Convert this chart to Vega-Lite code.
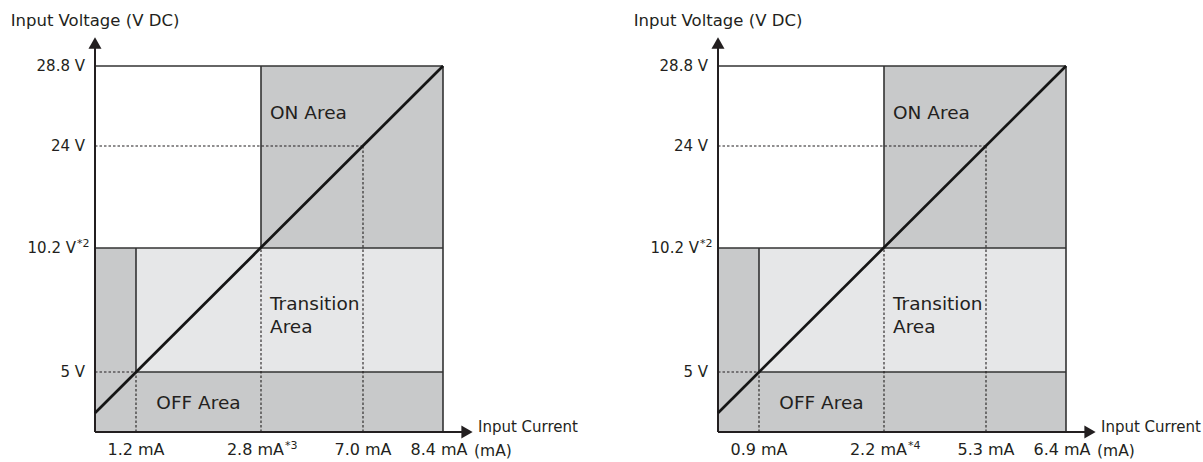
{
  "$schema": "https://vega.github.io/schema/vega-lite/v6.json",
  "padding": 0,
  "background": "white",
  "spacing": 0,
  "config": {
    "view": {"stroke": null},
    "text": {"font": "DejaVu Sans", "fontSize": 16, "color": "#231f20", "baseline": "middle"}
  },
  "hconcat": [
    {
      "width": 623,
      "height": 462,
      "encoding": {
        "x": {"field": "x", "type": "quantitative", "axis": null,
              "scale": {"domain": [0, 1.2, 2.8, 7.0, 8.4, 9.4], "range": [95, 136, 261, 363, 443, 467], "nice": false, "zero": false}},
        "y": {"field": "y", "type": "quantitative", "axis": null,
              "scale": {"domain": [0, 5, 10.2, 24, 28.8, 30.2], "range": [432, 372, 248, 146, 66, 43], "nice": false, "zero": false}}
      },
      "layer": [
        {
          "data": {"values": [
            {"x": 0, "x2": 8.4, "y": 0, "y2": 5, "zone": "OFF"},
            {"x": 0, "x2": 1.2, "y": 5, "y2": 10.2, "zone": "OFF"},
            {"x": 1.2, "x2": 8.4, "y": 5, "y2": 10.2, "zone": "Transition"},
            {"x": 2.8, "x2": 8.4, "y": 10.2, "y2": 28.8, "zone": "ON"}
          ]},
          "mark": {"type": "rect", "opacity": 1},
          "encoding": {
            "x2": {"field": "x2"}, "y2": {"field": "y2"},
            "color": {"field": "zone", "type": "nominal", "legend": null,
                      "scale": {"domain": ["ON", "Transition", "OFF"], "range": ["#c8c9ca", "#e6e7e8", "#c8c9ca"]}}
          }
        },
        {
          "data": {"values": [
            {"x": 0, "x2": 8.4, "y": 28.8, "y2": 28.8},
            {"x": 8.4, "x2": 8.4, "y": 0, "y2": 28.8},
            {"x": 2.8, "x2": 2.8, "y": 10.2, "y2": 28.8},
            {"x": 0, "x2": 8.4, "y": 10.2, "y2": 10.2},
            {"x": 1.2, "x2": 8.4, "y": 5, "y2": 5},
            {"x": 1.2, "x2": 1.2, "y": 5, "y2": 10.2}
          ]},
          "mark": {"type": "rule", "color": "#333333", "strokeWidth": 1.6},
          "encoding": {"x2": {"field": "x2"}, "y2": {"field": "y2"}}
        },
        {
          "data": {"values": [
            {"x": 0, "x2": 1.2, "y": 5, "y2": 5},
            {"x": 1.2, "x2": 1.2, "y": 0, "y2": 5},
            {"x": 2.8, "x2": 2.8, "y": 0, "y2": 10.2},
            {"x": 0, "x2": 7.0, "y": 24, "y2": 24},
            {"x": 7.0, "x2": 7.0, "y": 0, "y2": 24}
          ]},
          "mark": {"type": "rule", "color": "#231f20", "strokeWidth": 1.1, "strokeDash": [2.5, 2]},
          "encoding": {"x2": {"field": "x2"}, "y2": {"field": "y2"}}
        },
        {
          "data": {"values": [
            {"x": 0, "x2": 0, "y": 0, "y2": 30.2},
            {"x": 0, "x2": 9.4, "y": 0, "y2": 0}
          ]},
          "mark": {"type": "rule", "color": "#231f20", "strokeWidth": 2},
          "encoding": {"x2": {"field": "x2"}, "y2": {"field": "y2"}}
        },
        {
          "data": {"values": [{"x": 0, "y": 1.58}, {"x": 8.4, "y": 28.8}]},
          "mark": {"type": "line", "color": "#151515", "strokeWidth": 2.7}
        },
        {
          "data": {"values": [{"x": 0, "y": 30.2}]},
          "mark": {"type": "point", "shape": "triangle-up", "filled": true, "size": 170, "color": "#231f20", "opacity": 1}
        },
        {
          "data": {"values": [{"x": 9.4, "y": 0}]},
          "mark": {"type": "point", "shape": "triangle-right", "filled": true, "size": 170, "color": "#231f20", "opacity": 1}
        },
        {
          "data": {"values": [
            {"x": 0, "y": 28.8, "label": "28.8 V"},
            {"x": 0, "y": 24, "label": "24 V"},
            {"x": 0, "y": 5, "label": "5 V"}
          ]},
          "mark": {"type": "text", "align": "right", "dx": -10, "fontSize": 15},
          "encoding": {"text": {"field": "label"}}
        },
        {
          "data": {"values": [{"x": 0, "y": 10.2, "label": "10.2 V", "note": "*2"}]},
          "mark": {"type": "text", "align": "right", "dx": -19, "fontSize": 15},
          "encoding": {"text": {"field": "label"}}
        },
        {
          "data": {"values": [{"x": 0, "y": 10.2, "label": "10.2 V", "note": "*2"}]},
          "mark": {"type": "text", "align": "left", "dx": -18, "dy": -4, "fontSize": 11},
          "encoding": {"text": {"field": "note"}}
        },
        {
          "data": {"values": [
            {"x": 1.2, "y": 0, "label": "1.2 mA"},
            {"x": 7.0, "y": 0, "label": "7.0 mA"}
          ]},
          "mark": {"type": "text", "align": "center", "dy": 18},
          "encoding": {"text": {"field": "label"}}
        },
        {
          "data": {"values": [{"x": 8.4, "y": 0, "label": "8.4 mA"}]},
          "mark": {"type": "text", "align": "center", "dx": -4, "dy": 18},
          "encoding": {"text": {"field": "label"}}
        },
        {
          "data": {"values": [{"x": 2.8, "y": 0, "label": "2.8 mA", "note": "*3"}]},
          "mark": {"type": "text", "align": "right", "dx": 23, "dy": 18},
          "encoding": {"text": {"field": "label"}}
        },
        {
          "data": {"values": [{"x": 2.8, "y": 0, "label": "2.8 mA", "note": "*3"}]},
          "mark": {"type": "text", "align": "left", "dx": 24, "dy": 14, "fontSize": 11},
          "encoding": {"text": {"field": "note"}}
        },
        {
          "data": {"values": [
            {"x": 2.8, "y": 26.0, "label": "ON Area"},
            {"x": 2.8, "y": 7.85, "label": "Transition"},
            {"x": 2.8, "y": 6.89, "label": "Area"}
          ]},
          "mark": {"type": "text", "align": "left", "dx": 9, "fontSize": 18.5},
          "encoding": {"text": {"field": "label"}}
        },
        {
          "data": {"values": [{"x": 2.0, "y": 2.4, "label": "OFF Area"}]},
          "mark": {"type": "text", "align": "center", "fontSize": 18.5},
          "encoding": {"text": {"field": "label"}}
        },
        {
          "data": {"values": [{"x": 0, "y": 30.2, "label": "Input Voltage (V DC)"}]},
          "mark": {"type": "text", "align": "center", "dy": -22, "fontSize": 16.5},
          "encoding": {"text": {"field": "label"}}
        },
        {
          "data": {"values": [{"x": 9.4, "y": 0, "label": "Input Current"}]},
          "mark": {"type": "text", "align": "left", "dx": 11, "dy": -5, "fontSize": 15},
          "encoding": {"text": {"field": "label"}}
        },
        {
          "data": {"values": [{"x": 9.4, "y": 0, "label": "(mA)"}]},
          "mark": {"type": "text", "align": "left", "dx": 7, "dy": 19, "fontSize": 15.5},
          "encoding": {"text": {"field": "label"}}
        }
      ]
    },
    {
      "width": 580,
      "height": 462,
      "encoding": {
        "x": {"field": "x", "type": "quantitative", "axis": null,
              "scale": {"domain": [0, 0.9, 2.2, 5.3, 6.4, 7.2], "range": [95, 136, 261, 363, 443, 467], "nice": false, "zero": false}},
        "y": {"field": "y", "type": "quantitative", "axis": null,
              "scale": {"domain": [0, 5, 10.2, 24, 28.8, 30.2], "range": [432, 372, 248, 146, 66, 43], "nice": false, "zero": false}}
      },
      "layer": [
        {
          "data": {"values": [
            {"x": 0, "x2": 6.4, "y": 0, "y2": 5, "zone": "OFF"},
            {"x": 0, "x2": 0.9, "y": 5, "y2": 10.2, "zone": "OFF"},
            {"x": 0.9, "x2": 6.4, "y": 5, "y2": 10.2, "zone": "Transition"},
            {"x": 2.2, "x2": 6.4, "y": 10.2, "y2": 28.8, "zone": "ON"}
          ]},
          "mark": {"type": "rect", "opacity": 1},
          "encoding": {
            "x2": {"field": "x2"}, "y2": {"field": "y2"},
            "color": {"field": "zone", "type": "nominal", "legend": null,
                      "scale": {"domain": ["ON", "Transition", "OFF"], "range": ["#c8c9ca", "#e6e7e8", "#c8c9ca"]}}
          }
        },
        {
          "data": {"values": [
            {"x": 0, "x2": 6.4, "y": 28.8, "y2": 28.8},
            {"x": 6.4, "x2": 6.4, "y": 0, "y2": 28.8},
            {"x": 2.2, "x2": 2.2, "y": 10.2, "y2": 28.8},
            {"x": 0, "x2": 6.4, "y": 10.2, "y2": 10.2},
            {"x": 0.9, "x2": 6.4, "y": 5, "y2": 5},
            {"x": 0.9, "x2": 0.9, "y": 5, "y2": 10.2}
          ]},
          "mark": {"type": "rule", "color": "#333333", "strokeWidth": 1.6},
          "encoding": {"x2": {"field": "x2"}, "y2": {"field": "y2"}}
        },
        {
          "data": {"values": [
            {"x": 0, "x2": 0.9, "y": 5, "y2": 5},
            {"x": 0.9, "x2": 0.9, "y": 0, "y2": 5},
            {"x": 2.2, "x2": 2.2, "y": 0, "y2": 10.2},
            {"x": 0, "x2": 5.3, "y": 24, "y2": 24},
            {"x": 5.3, "x2": 5.3, "y": 0, "y2": 24}
          ]},
          "mark": {"type": "rule", "color": "#231f20", "strokeWidth": 1.1, "strokeDash": [2.5, 2]},
          "encoding": {"x2": {"field": "x2"}, "y2": {"field": "y2"}}
        },
        {
          "data": {"values": [
            {"x": 0, "x2": 0, "y": 0, "y2": 30.2},
            {"x": 0, "x2": 7.2, "y": 0, "y2": 0}
          ]},
          "mark": {"type": "rule", "color": "#231f20", "strokeWidth": 2},
          "encoding": {"x2": {"field": "x2"}, "y2": {"field": "y2"}}
        },
        {
          "data": {"values": [{"x": 0, "y": 1.58}, {"x": 6.4, "y": 28.8}]},
          "mark": {"type": "line", "color": "#151515", "strokeWidth": 2.7}
        },
        {
          "data": {"values": [{"x": 0, "y": 30.2}]},
          "mark": {"type": "point", "shape": "triangle-up", "filled": true, "size": 170, "color": "#231f20", "opacity": 1}
        },
        {
          "data": {"values": [{"x": 7.2, "y": 0}]},
          "mark": {"type": "point", "shape": "triangle-right", "filled": true, "size": 170, "color": "#231f20", "opacity": 1}
        },
        {
          "data": {"values": [
            {"x": 0, "y": 28.8, "label": "28.8 V"},
            {"x": 0, "y": 24, "label": "24 V"},
            {"x": 0, "y": 5, "label": "5 V"}
          ]},
          "mark": {"type": "text", "align": "right", "dx": -10, "fontSize": 15},
          "encoding": {"text": {"field": "label"}}
        },
        {
          "data": {"values": [{"x": 0, "y": 10.2, "label": "10.2 V", "note": "*2"}]},
          "mark": {"type": "text", "align": "right", "dx": -19, "fontSize": 15},
          "encoding": {"text": {"field": "label"}}
        },
        {
          "data": {"values": [{"x": 0, "y": 10.2, "label": "10.2 V", "note": "*2"}]},
          "mark": {"type": "text", "align": "left", "dx": -18, "dy": -4, "fontSize": 11},
          "encoding": {"text": {"field": "note"}}
        },
        {
          "data": {"values": [
            {"x": 0.9, "y": 0, "label": "0.9 mA"},
            {"x": 5.3, "y": 0, "label": "5.3 mA"}
          ]},
          "mark": {"type": "text", "align": "center", "dy": 18},
          "encoding": {"text": {"field": "label"}}
        },
        {
          "data": {"values": [{"x": 6.4, "y": 0, "label": "6.4 mA"}]},
          "mark": {"type": "text", "align": "center", "dx": -4, "dy": 18},
          "encoding": {"text": {"field": "label"}}
        },
        {
          "data": {"values": [{"x": 2.2, "y": 0, "label": "2.2 mA", "note": "*4"}]},
          "mark": {"type": "text", "align": "right", "dx": 23, "dy": 18},
          "encoding": {"text": {"field": "label"}}
        },
        {
          "data": {"values": [{"x": 2.2, "y": 0, "label": "2.2 mA", "note": "*4"}]},
          "mark": {"type": "text", "align": "left", "dx": 24, "dy": 14, "fontSize": 11},
          "encoding": {"text": {"field": "note"}}
        },
        {
          "data": {"values": [
            {"x": 2.2, "y": 26.0, "label": "ON Area"},
            {"x": 2.2, "y": 7.85, "label": "Transition"},
            {"x": 2.2, "y": 6.89, "label": "Area"}
          ]},
          "mark": {"type": "text", "align": "left", "dx": 9, "fontSize": 18.5},
          "encoding": {"text": {"field": "label"}}
        },
        {
          "data": {"values": [{"x": 1.55, "y": 2.4, "label": "OFF Area"}]},
          "mark": {"type": "text", "align": "center", "fontSize": 18.5},
          "encoding": {"text": {"field": "label"}}
        },
        {
          "data": {"values": [{"x": 0, "y": 30.2, "label": "Input Voltage (V DC)"}]},
          "mark": {"type": "text", "align": "center", "dy": -22, "fontSize": 16.5},
          "encoding": {"text": {"field": "label"}}
        },
        {
          "data": {"values": [{"x": 7.2, "y": 0, "label": "Input Current"}]},
          "mark": {"type": "text", "align": "left", "dx": 11, "dy": -5, "fontSize": 15},
          "encoding": {"text": {"field": "label"}}
        },
        {
          "data": {"values": [{"x": 7.2, "y": 0, "label": "(mA)"}]},
          "mark": {"type": "text", "align": "left", "dx": 7, "dy": 19, "fontSize": 15.5},
          "encoding": {"text": {"field": "label"}}
        }
      ]
    }
  ]
}
